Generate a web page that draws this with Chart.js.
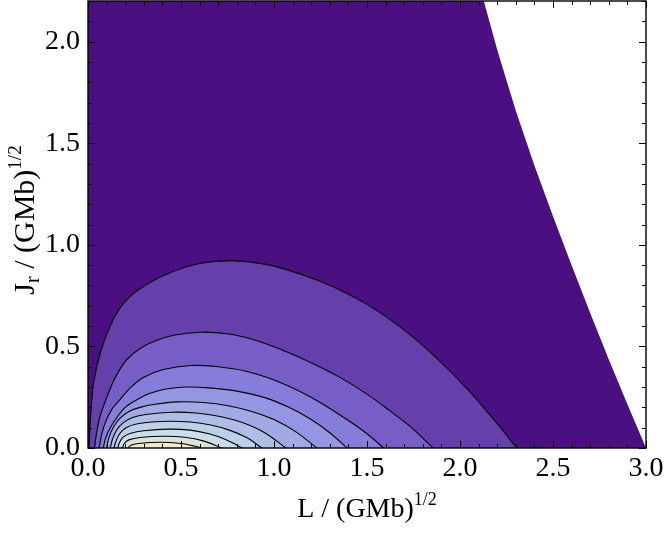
<!DOCTYPE html>
<html>
<head>
<meta charset="utf-8">
<script src="https://cdn.jsdelivr.net/npm/chart.js@4.4.1/dist/chart.umd.min.js"></script>
<style>
  html, body { margin: 0; padding: 0; background: #fff; }
</style>
</head>
<body>
<canvas id="c" width="664" height="534"></canvas>
<script>
// axis ticks
const xTicks = [0, 0.5, 1, 1.5, 2, 2.5, 3];
const yTicks = [0, 0.5, 1, 1.5, 2];

// edge of the filled region (everything right of it is blank)
const boundaryL = [0, 2.128, 2.2, 2.3, 2.4, 2.5, 2.6, 2.7, 2.8, 2.9, 3.0];
const boundaryJ = [2.2, 2.2, 1.96, 1.66, 1.39, 1.14, 0.90, 0.665, 0.435, 0.215, 0];

// contour lines, outermost first: L values and Jr values
const contourL = [
  [0.006, 0.012, 0.03, 0.07, 0.142, 0.22, 0.32, 0.45, 0.6, 0.77, 0.95, 1.14, 1.32, 1.5, 1.68, 1.86, 2.04, 2.2, 2.305],
  [0.035, 0.047, 0.066, 0.095, 0.14, 0.205, 0.28, 0.36, 0.46, 0.6, 0.75, 0.9, 1.05, 1.2, 1.35, 1.5, 1.62, 1.74, 1.855],
  [0.06, 0.072, 0.095, 0.128, 0.169, 0.23, 0.3, 0.4, 0.55, 0.7, 0.85, 1.0, 1.14, 1.27, 1.4, 1.5, 1.59],
  [0.082, 0.095, 0.12, 0.155, 0.2, 0.258, 0.33, 0.42, 0.52, 0.65, 0.8, 0.95, 1.08, 1.2, 1.3, 1.393],
  [0.1, 0.112, 0.135, 0.17, 0.22, 0.28, 0.36, 0.48, 0.62, 0.76, 0.88, 1.0, 1.12, 1.23],
  [0.12, 0.132, 0.155, 0.19, 0.24, 0.31, 0.45, 0.58, 0.71, 0.83, 0.95, 1.065],
  [0.14, 0.151, 0.17, 0.205, 0.26, 0.34, 0.44, 0.55, 0.66, 0.76, 0.855, 0.935],
  [0.16, 0.17, 0.19, 0.23, 0.3, 0.43, 0.55, 0.65, 0.74, 0.83],
  [0.185, 0.195, 0.22, 0.28, 0.41, 0.52, 0.62, 0.72],
  [0.215, 0.23, 0.27, 0.39, 0.5, 0.57, 0.61],
];
const contourJ = [
  [0, 0.13, 0.32, 0.48, 0.644, 0.74, 0.807, 0.866, 0.908, 0.922, 0.905, 0.857, 0.793, 0.707, 0.595, 0.455, 0.29, 0.12, 0],
  [0, 0.08, 0.16, 0.235, 0.335, 0.431, 0.49, 0.527, 0.555, 0.57, 0.562, 0.53, 0.48, 0.42, 0.35, 0.265, 0.185, 0.1, 0],
  [0, 0.06, 0.13, 0.19, 0.235, 0.298, 0.348, 0.385, 0.406, 0.4, 0.378, 0.335, 0.278, 0.212, 0.135, 0.07, 0],
  [0, 0.05, 0.1, 0.15, 0.2, 0.235, 0.268, 0.29, 0.3, 0.296, 0.28, 0.248, 0.2, 0.14, 0.075, 0],
  [0, 0.05, 0.1, 0.145, 0.18, 0.2, 0.215, 0.227, 0.224, 0.207, 0.18, 0.14, 0.078, 0],
  [0, 0.045, 0.09, 0.125, 0.15, 0.165, 0.176, 0.172, 0.155, 0.125, 0.075, 0],
  [0, 0.035, 0.07, 0.1, 0.118, 0.128, 0.132, 0.128, 0.113, 0.088, 0.05, 0],
  [0, 0.028, 0.055, 0.073, 0.085, 0.093, 0.088, 0.07, 0.042, 0],
  [0, 0.022, 0.04, 0.052, 0.058, 0.053, 0.035, 0],
  [0, 0.013, 0.022, 0.028, 0.022, 0.01, 0],
];

const bandColors = ["#4a1081", "#6640aa", "#765ec6", "#867dda", "#9496e2", "#a2aae4",
                    "#b0bee6", "#bed0e8", "#cbdde6", "#d9e3dc", "#f4e8c8"];
const FONT = "'Liberation Serif', 'Times New Roman', serif";

const datasets = [{
  data: boundaryL.map((v, i) => ({ x: v, y: boundaryJ[i] })),
  borderWidth: 0, pointRadius: 0, fill: "origin", tension: 0,
  backgroundColor: bandColors[0], order: 30,
}];
contourL.forEach((L, k) => {
  datasets.push({
    data: L.map((v, i) => ({ x: v, y: contourJ[k][i] })),
    borderColor: "#000", borderWidth: 1.1, pointRadius: 0,
    fill: "origin", backgroundColor: bandColors[k + 1],
    tension: 0.3, order: 29 - k,
  });
});

// frame with inward ticks on all four sides (Mathematica style)
const framePlugin = {
  id: "frame",
  afterDatasetsDraw(chart) {
    const { ctx, chartArea: a, scales: { x, y } } = chart;
    ctx.save();
    ctx.strokeStyle = "#000";
    ctx.lineWidth = 1;
    ctx.beginPath();
    for (let i = 0; i <= 30; i++) {
      const px = Math.round(x.getPixelForValue(i / 10)) + 0.5, len = i % 5 ? 4 : 7;
      ctx.moveTo(px, a.bottom); ctx.lineTo(px, a.bottom - len);
      ctx.moveTo(px, a.top);    ctx.lineTo(px, a.top + len);
    }
    for (let i = 0; i <= 22; i++) {
      const py = Math.round(y.getPixelForValue(i / 10)) + 0.5, len = i % 5 ? 4 : 7;
      ctx.moveTo(a.left, py);  ctx.lineTo(a.left + len, py);
      ctx.moveTo(a.right, py); ctx.lineTo(a.right - len, py);
    }
    ctx.stroke();
    ctx.lineWidth = 1.4;
    ctx.strokeRect(a.left, a.top, a.width, a.height);
    ctx.restore();
  },
};

// axis titles with sub/superscripts
function richText(ctx, parts, cx, baseY) {
  const w = parts.map(([t, s]) => { ctx.font = `${s}px ${FONT}`; return ctx.measureText(t).width; });
  let x = cx - w.reduce((p, q) => p + q, 0) / 2;
  parts.forEach(([t, s, dy], i) => {
    ctx.font = `${s}px ${FONT}`;
    ctx.fillText(t, x, baseY + dy);
    x += w[i];
  });
}
const titlePlugin = {
  id: "titles",
  afterDraw(chart) {
    const { ctx, chartArea: a } = chart;
    ctx.save();
    ctx.fillStyle = "#000";
    ctx.textBaseline = "alphabetic";
    ctx.textAlign = "left";
    richText(ctx, [["L / (GMb)", 28, 0], ["1/2", 18, -12]], (a.left + a.right) / 2, 517);
    ctx.translate(34, 220);
    ctx.rotate(-Math.PI / 2);
    richText(ctx, [["J", 30, 0], ["r", 20, 5], [" / (GMb)", 30, 0], ["1/2", 19, -13]], 0, 0);
    ctx.restore();
  },
};

const tickFont = { family: FONT, size: 28 };
new Chart(document.getElementById("c"), {
  type: "line",
  data: { datasets },
  plugins: [framePlugin, titlePlugin],
  options: {
    responsive: false,
    animation: false,
    devicePixelRatio: 1,
    layout: { padding: { top: 1, right: 18, left: 0, bottom: 0 } },
    plugins: { legend: { display: false }, tooltip: { enabled: false } },
    scales: {
      x: {
        type: "linear", min: 0, max: 3,
        afterBuildTicks: s => { s.ticks = xTicks.map(v => ({ value: v })); },
        afterFit: s => { s.height = 86; s.paddingLeft = 0; s.paddingRight = 0; },
        ticks: { callback: v => v.toFixed(1), font: tickFont, color: "#000", padding: 4, maxRotation: 0, autoSkip: false },
        grid: { display: false, drawTicks: false },
        border: { display: false },
      },
      y: {
        type: "linear", min: 0, max: 2.2,
        afterBuildTicks: s => { s.ticks = yTicks.map(v => ({ value: v })); },
        afterFit: s => { s.width = 88; s.paddingTop = 0; s.paddingBottom = 0; },
        ticks: { callback: v => v.toFixed(1), font: tickFont, color: "#000", padding: 8, autoSkip: false },
        grid: { display: false, drawTicks: false },
        border: { display: false },
      },
    },
  },
});
</script>
</body>
</html>
